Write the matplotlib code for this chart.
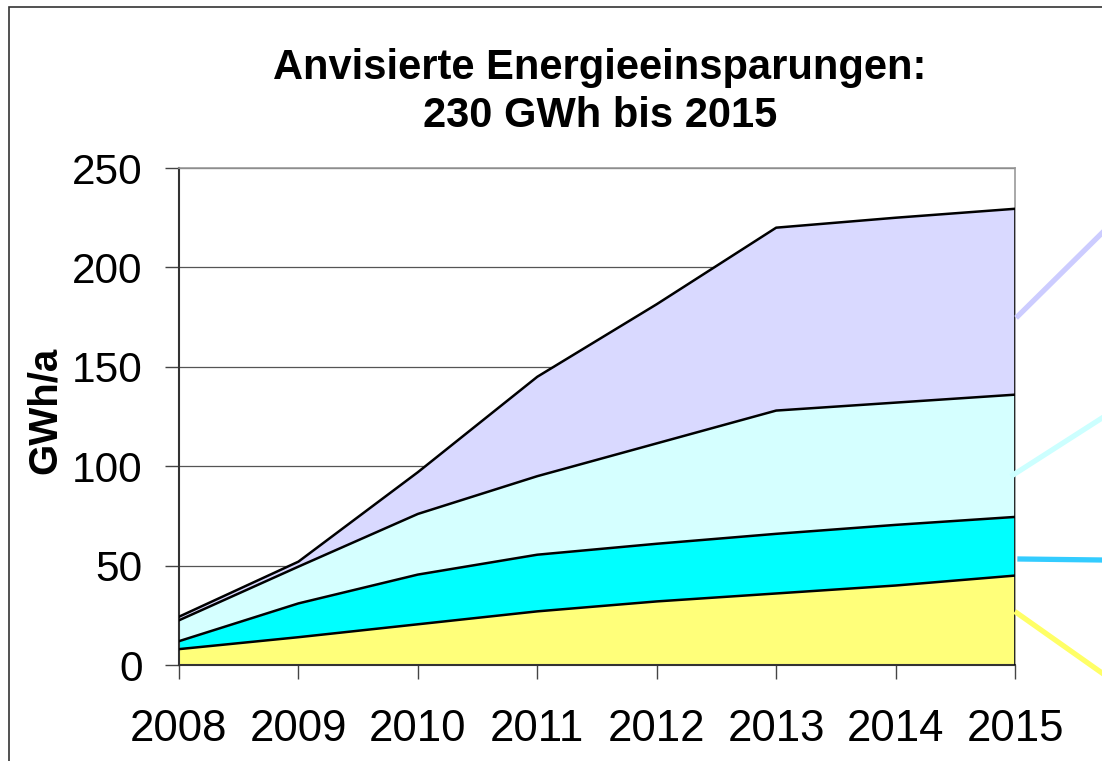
import matplotlib
matplotlib.use("Agg")
import matplotlib.pyplot as plt
import numpy as np
from matplotlib.lines import Line2D
from matplotlib.patches import Rectangle

plt.rcParams['font.family'] = ['Liberation Sans', 'DejaVu Sans']

# Daten (GWh/a je Schicht, gestapelt)
years = [2008, 2009, 2010, 2011, 2012, 2013, 2014, 2015]
layer_yellow = [8, 14, 20.5, 27, 32, 36, 40, 45]
layer_cyan = [4, 17, 25, 28.5, 29, 30, 30.5, 29.5]
layer_lightcyan = [10.5, 18.5, 30.5, 39.5, 50.5, 62, 61.5, 61.5]
layer_lavender = [1.8, 2.5, 21, 50, 70, 92, 93, 93.5]
y_ticks = [0, 50, 100, 150, 200, 250]

colors = ['#FFFF7A', '#00FFFF', '#D5FFFF', '#D9D9FF']
leader_colors = ['#FFFF66', '#33CCFF', '#CCFFFF', '#CCCCFF']

fig = plt.figure(figsize=(11.02, 7.61), dpi=100)
ax = fig.add_axes([0.1624, 0.1261, 0.9211 - 0.1624, 0.7792 - 0.1261])

x = np.arange(len(years))
layers = [layer_yellow, layer_cyan, layer_lightcyan, layer_lavender]
bottom = np.zeros(len(years))
for vals, col in zip(layers, colors):
  top = bottom + np.array(vals)
  ax.fill_between(x, bottom, top, color=col, linewidth=0, zorder=2)
  ax.plot(x, top, color='black', linewidth=1.8, zorder=3)
  bottom = top
# rechte Kante der Flaeche
ax.plot([x[-1], x[-1]], [0, bottom[-1]], color='black', linewidth=1.8, zorder=3)

ax.set_xlim(x[0], x[-1])
ax.set_ylim(0, 250)
ax.set_yticks(y_ticks)
ax.set_yticklabels([str(t) for t in y_ticks], fontsize=30.5)
ax.set_xticks(x)
ax.set_xticklabels([str(y) for y in years], fontsize=31.5)
ax.tick_params(axis='y', direction='out', length=10, width=1, color='#444444', pad=16)
ax.tick_params(axis='x', direction='out', length=10, width=1, color='#444444', pad=22)

ax.yaxis.grid(True, color='#555555', linewidth=0.9, zorder=1)
ax.set_axisbelow(True)

for side in ['left', 'bottom']:
  ax.spines[side].set_color('#333333')
  ax.spines[side].set_linewidth(1.5)
for side in ['top', 'right']:
  ax.spines[side].set_color('#999999')
  ax.spines[side].set_linewidth(1.2)

fig.text(45 / 1102, 1 - 410 / 761, 'GWh/a', rotation=90, ha='center',
         va='center', fontsize=29, fontweight='bold')

fig.text(0.5445, 1 - 92 / 761, 'Anvisierte Energieeinsparungen:\n230 GWh bis 2015',
         ha='center', va='center', fontsize=30, fontweight='bold',
         linespacing=1.25)

# Rahmen des Diagrammbereichs (rechts/unten abgeschnitten)
fig.patches.append(Rectangle((9 / 1102, -0.05), 1.2, 1 - 7 / 761 + 0.05,
                             transform=fig.transFigure, fill=False,
                             edgecolor='#333333', linewidth=1.2))

# Hinweislinien zu den (abgeschnittenen) Beschriftungen
leaders = [
    ((1017, 613), (1102, 673)),
    ((1020, 559), (1102, 560)),
    ((1013, 475), (1102, 418)),
    ((1018, 316), (1102, 233)),
]
for (p0, p1), col in zip(leaders, leader_colors):
  fig.lines.append(Line2D([p0[0] / 1102, p1[0] / 1102],
                          [1 - p0[1] / 761, 1 - p1[1] / 761],
                          transform=fig.transFigure, color=col,
                          linewidth=3.8))

fig.savefig('out.png', dpi=100)
